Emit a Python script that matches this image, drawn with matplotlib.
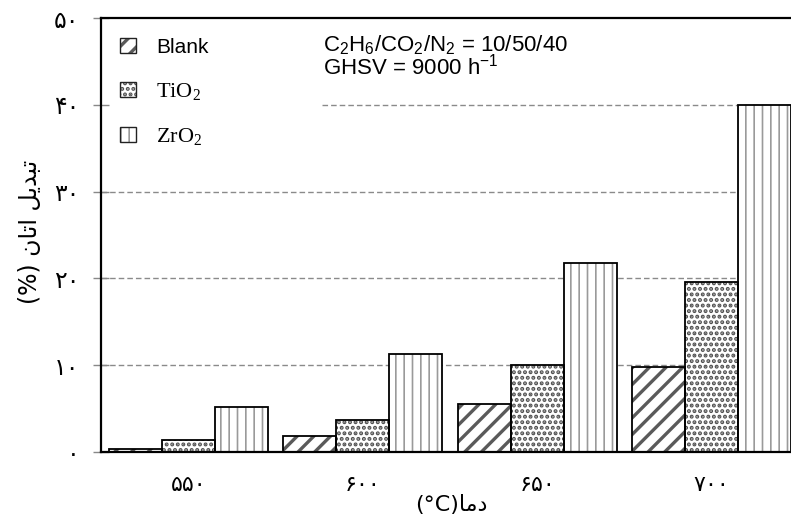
import numpy as np
import matplotlib
matplotlib.use("Agg")
import matplotlib.pyplot as plt
from matplotlib.patches import Patch, Rectangle

# ---- data ----
temps = ["۵۵۰", "۶۰۰", "۶۵۰", "۷۰۰"]
series_names = ["Blank", "TiO$\\mathregular{_2}$", "ZrO$\\mathregular{_2}$"]
blank = [0.3, 1.85, 5.5, 9.75]
tio2 = [1.35, 3.7, 10.0, 19.6]
zro2 = [5.15, 11.25, 21.8, 40.0]
yticks = [0, 10, 20, 30, 40, 50]
ytick_labels = ["۰", "۱۰", "۲۰", "۳۰", "۴۰", "۵۰"]
# shaped (visual order) Persian labels
ylabel_txt = "(%) \uFEE5\uFE8E\uFE97\uFE8D \uFEDE\uFEF3\uFEAA\uFE92\uFE97"
xlabel_txt = "(°C)\uFE8E\uFEE3\uFEA9"

plt.rcParams['font.family'] = ['DejaVu Sans']

fig = plt.figure(figsize=(7.91, 5.19), dpi=100)
W, H = 791, 519
ax_left, ax_right = 100.7, 799.3
ax_bottom, ax_top = 451.7, 18.3
AW, AH = ax_right - ax_left, ax_bottom - ax_top
ax = fig.add_axes([ax_left / W, 1 - ax_bottom / H, AW / W, AH / H])

x = np.arange(len(temps))
bw = 0.304
styles = [
    dict(hatch='//', hc='#5a5a5a', hlw=2.4),
    dict(hatch='...', hc='#505050', hlw=2.0),
    dict(hatch='||', hc='#9a9a9a', hlw=1.2),
]
handles = []
for i, (vals, st) in enumerate(zip([blank, tio2, zro2], styles)):
    xs = x + (i - 1) * bw
    with plt.rc_context({'hatch.linewidth': st['hlw']}):
        b = ax.bar(xs, vals, bw, color='white', edgecolor=st['hc'], hatch=st['hatch'], linewidth=0, zorder=2)
        hp = Patch(facecolor='white', edgecolor=st['hc'], hatch=st['hatch'], linewidth=0)
        for p in list(b) + [hp]:
            try:
                p.set_hatch_linewidth(st['hlw'])
            except Exception:
                pass
    ax.bar(xs, vals, bw, fill=False, edgecolor='black', linewidth=1.3, zorder=3)
    op = Patch(facecolor='none', edgecolor='#222222', linewidth=1.0)
    handles.append((hp, op))

ax.set_xlim(-0.504, 3.504)
ax.set_ylim(0, 50)

# grid lines
for yv in [10, 20, 30]:
    ax.axhline(yv, color='#8a8a8a', linestyle=(0, (4, 2.2)), linewidth=1.0, zorder=1)
ax.plot([0.317, 1], [40, 40], transform=ax.get_yaxis_transform(), color='#8a8a8a',
        linestyle=(0, (4, 2.2)), linewidth=1.0, zorder=1)

ax.set_yticks(yticks)
ax.set_yticklabels(ytick_labels, fontsize=17)
ax.set_xticks(x)
ax.set_xticklabels(temps, fontsize=16)
ax.tick_params(axis='y', direction='inout', length=11, width=1, color='#888888', pad=10)
ax.tick_params(axis='x', length=0, pad=17)

for s in ['left', 'bottom', 'top']:
    ax.spines[s].set_linewidth(1.6)
    ax.spines[s].set_color('black')
ax.spines['right'].set_visible(False)

ax.set_ylabel(ylabel_txt, fontsize=17)
ax.set_xlabel(xlabel_txt, fontsize=16)
ax.xaxis.set_label_coords((451 - ax_left) / AW, -(495 - ax_bottom) / AH)
ax.yaxis.set_label_coords(-(100.7 - 42) / AW, (ax_bottom - 232) / AH)

leg = ax.legend(handles, series_names, loc='upper left',
                bbox_to_anchor=((120 - ax_left) / AW, 1 - (38 - ax_top) / AH),
                frameon=False, fontsize=15, handlelength=0.75, handleheight=0.75,
                handletextpad=1.0, labelspacing=1.15, borderpad=0, borderaxespad=0)
texts = leg.get_texts()
texts[0].set_fontfamily('Liberation Sans')
texts[1].set_fontfamily('Liberation Serif')
texts[2].set_fontfamily('Liberation Serif')
texts[1].set_fontsize(16)
texts[2].set_fontsize(16)
for r in leg.findobj(Rectangle):
    h = r.get_hatch()
    if h:
        for st in styles:
            if st['hatch'] == h:
                try:
                    r.set_hatch_linewidth(st['hlw'])
                except Exception:
                    pass

ax.text(0.318, 0.965, "C$\\mathregular{_2}$H$\\mathregular{_6}$/CO$\\mathregular{_2}$/N$\\mathregular{_2}$ = 10/50/40\nGHSV = 9000 h$\\mathregular{^{-1}}$",
        transform=ax.transAxes, ha='left', va='top', fontsize=16, family='Liberation Sans',
        linespacing=0.83)

fig.savefig('out.png', dpi=100)
